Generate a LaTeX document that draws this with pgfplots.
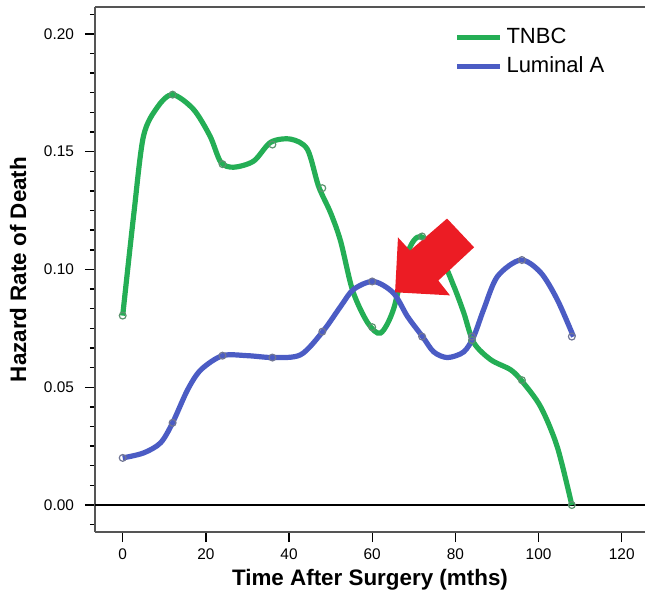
\documentclass[border=0pt]{standalone}
\usepackage{fontspec}
\setmainfont{Liberation Sans}
\usepackage{pgfplots}
\pgfplotsset{compat=1.18}
\definecolor{tnbc}{HTML}{24AE55}
\definecolor{luma}{HTML}{4B5CC4}
\definecolor{arrowred}{HTML}{EC1C24}
\definecolor{frame}{HTML}{555555}

\begin{document}
\begin{tikzpicture}
\begin{axis}[
  scale only axis,
  width=275pt, height=262.5pt,
  xmin=-6.66, xmax=125.6,
  ymin=-0.01144, ymax=0.2114,
  axis x line*=bottom, axis y line*=left,
  x axis line style={-, frame, line width=0.8pt},
  y axis line style={-, frame, line width=0.8pt},
  xtick={0,20,...,120},
  ytick={0,0.05,0.10,0.15,0.20},
  minor ytick={-0.00833,0.00833,0.01667,0.025,0.03333,0.04167,
    0.05833,0.06667,0.075,0.08333,0.09167,
    0.10833,0.11667,0.125,0.13333,0.14167,
    0.15833,0.16667,0.175,0.18333,0.19167,0.20833},
  tick align=outside,
  major tick length=5pt, minor tick length=2.5pt,
  every tick/.style={black, line width=0.7pt},
  every minor tick/.style={black, line width=0.7pt},
  /pgf/number format/assume math mode=true,
  yticklabel style={/pgf/number format/fixed, /pgf/number format/fixed zerofill,
    /pgf/number format/precision=2, xshift=-2pt},
  tick label style={font=\fontsize{7.7}{9}\selectfont},
  scaled y ticks=false,
  xlabel={\bfseries Time After Surgery (mths)},
  ylabel={\bfseries Hazard Rate of Death},
  label style={font=\fontsize{11.2}{13}\selectfont},
  xlabel style={yshift=2pt},
  ylabel style={yshift=2pt},
  legend style={at={(rel axis cs:0.945,0.975)}, anchor=north east, draw=none, fill=none,
    font=\fontsize{11}{13}\selectfont, row sep=1pt},
  legend cell align=left,
  legend image code/.code={\draw[#1, line width=2.6pt] (0cm,0cm) -- (0.75cm,0cm);},
]
\coordinate (fsw) at (rel axis cs:0,0);
\coordinate (fne) at (rel axis cs:1,1);
\draw[frame, line width=0.8pt] (rel axis cs:0,1) -- (rel axis cs:1,1);
\draw[black, line width=0.8pt] (axis cs:-6.66,0) -- (axis cs:125.6,0);

\addplot[tnbc, line width=2.6pt, smooth, tension=0.5] coordinates {
  (0,0.0804) (2.7,0.124) (5,0.1566) (8.4,0.169) (12,0.1742) (17,0.168)
  (21,0.1566) (23.6,0.1455) (26.7,0.1434) (31.5,0.146) (35.6,0.154)
  (40.4,0.1553) (44.4,0.151) (47.1,0.1353) (50,0.124) (52.4,0.112)
  (55.3,0.091) (58.9,0.0774) (62,0.073) (65.1,0.083) (68.5,0.107)
  (71.6,0.114) (76.4,0.1055) (79.6,0.093) (82,0.0817) (84.4,0.069)
  (88.5,0.0617) (93.3,0.0574) (96.1,0.0524) (100.5,0.0417) (104.5,0.0247)
  (108,0.0)};
\addlegendentry{TNBC}
\addplot[luma, line width=2.6pt, smooth, tension=0.5] coordinates {
  (0,0.02) (5,0.0221) (9.1,0.0264) (12,0.0349) (15.6,0.0489) (18.8,0.0574)
  (24,0.0634) (30,0.0634) (36.3,0.0626) (42.8,0.0638) (48.1,0.0736)
  (52.4,0.0843) (55.5,0.0915) (60.3,0.0949) (65.1,0.090) (68.5,0.080)
  (72.1,0.0715) (74.8,0.065) (78.1,0.0626) (82,0.065) (84.4,0.0715)
  (86.8,0.083) (90.1,0.097) (95.7,0.104) (100.5,0.0987) (104.5,0.0872)
  (108.4,0.0715)};
\addlegendentry{Luminal A}

\addplot[only marks, mark=o, mark size=1.7pt, mark options={draw=gray!60!tnbc, line width=0.6pt},
  forget plot] coordinates {
  (0,0.0804) (12,0.1742) (24,0.1447) (36,0.153) (48,0.1345) (60,0.0755)
  (72,0.114) (84,0.07) (96,0.053) (108,0.0)};
\addplot[only marks, mark=o, mark size=1.7pt, mark options={draw=gray!70!luma, line width=0.6pt},
  forget plot] coordinates {
  (0,0.02) (12,0.0349) (24,0.0634) (36,0.0626) (48,0.0736) (60,0.0949)
  (72,0.0715) (84,0.0715) (96,0.104) (108,0.0715)};

\fill[arrowred] (axis cs:65.5,0.0903) -- (axis cs:66.2,0.1136) -- (axis cs:69.1,0.108)
  -- (axis cs:78.0,0.1216) -- (axis cs:84.5,0.1094) -- (axis cs:75.9,0.0953)
  -- (axis cs:78.7,0.089) -- cycle;
\end{axis}
\pgfresetboundingbox
\path ([xshift=-47.5pt,yshift=-30pt]fsw) rectangle ([yshift=3.5pt]fne);
\end{tikzpicture}
\end{document}
